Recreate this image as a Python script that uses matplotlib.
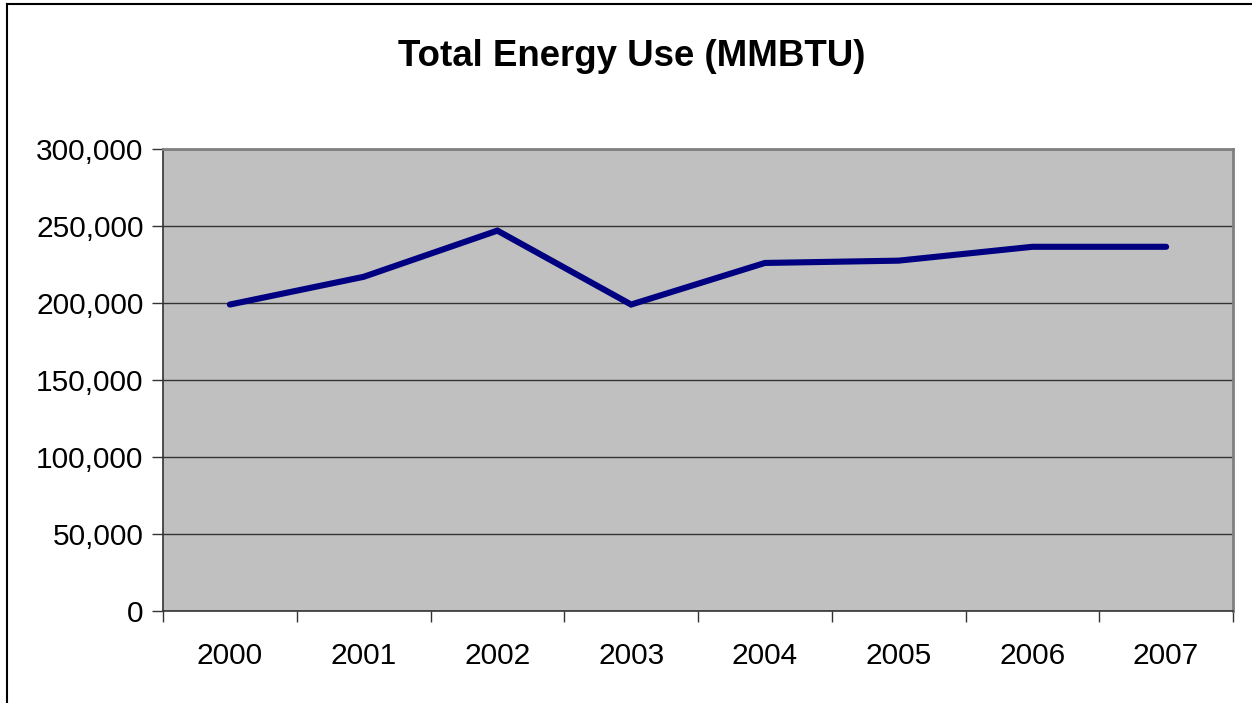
import matplotlib
matplotlib.use("Agg")
import matplotlib.pyplot as plt
import matplotlib.ticker as mticker
import numpy as np

years = ["2000", "2001", "2002", "2003", "2004", "2005", "2006", "2007"]
energy = [199000, 217000, 247000, 199000, 226000, 227500, 236500, 236500]
y_ticks = [0, 50000, 100000, 150000, 200000, 250000, 300000]

plt.rcParams['font.family'] = ['Liberation Sans', 'DejaVu Sans']

fig = plt.figure(figsize=(12.52, 7.03), dpi=100)
fig.patch.set_facecolor('white')

# outer chart border (left and top visible)
fig.add_artist(plt.Line2D([7/1252, 7/1252], [0, 1 - 4/703], color='black', lw=1.5, transform=fig.transFigure))
fig.add_artist(plt.Line2D([7/1252, 1], [1 - 4/703, 1 - 4/703], color='black', lw=1.5, transform=fig.transFigure))

ax = fig.add_axes([163/1252, 1 - 611/703, (1233 - 163)/1252, (611 - 149)/703])
ax.set_facecolor('#c0c0c0')

x = np.arange(len(years))
ax.plot(x, energy, color='#000080', lw=4.4, solid_capstyle='round', solid_joinstyle='miter', zorder=3)

ax.set_xlim(-0.5, len(years) - 0.5)
ax.set_ylim(0, 300000)
ax.set_yticks(y_ticks)
ax.yaxis.set_major_formatter(mticker.FuncFormatter(lambda v, p: f"{int(v):,}"))
ax.yaxis.grid(True, color='#333333', lw=1.0)
ax.set_axisbelow(True)

ax.set_xticks(np.arange(len(years) + 1) - 0.5)
ax.set_xticklabels([])
ax.set_xticks(x, minor=True)
ax.set_xticklabels(years, minor=True)
ax.tick_params(axis='x', which='major', length=8, width=1, color='#333333', direction='out')
ax.tick_params(axis='x', which='minor', length=0, pad=22, labelsize=21.5)
ax.tick_params(axis='y', length=8, width=1, color='#333333', labelsize=21.5, pad=6)

for s in ['top', 'right']:
    ax.spines[s].set_color('#808080')
    ax.spines[s].set_linewidth(2)
for s in ['left', 'bottom']:
    ax.spines[s].set_color('#333333')
    ax.spines[s].set_linewidth(1.2)

fig.text(632/1252, 1 - 56/703, "Total Energy Use (MMBTU)", ha='center', va='center',
         fontsize=26.4, fontweight='bold')

fig.savefig("out.png", dpi=100)
